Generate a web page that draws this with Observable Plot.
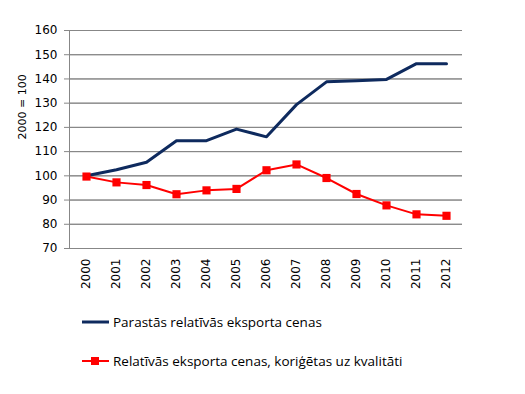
<!DOCTYPE html>
<html><head><meta charset="utf-8">
<script src="https://cdn.jsdelivr.net/npm/d3@7"></script>
<script src="https://cdn.jsdelivr.net/npm/@observablehq/plot@0.6"></script>
<style>
body{margin:0;background:#fff;width:525px;height:394px;overflow:hidden;}
#legend{font-family:"Open Sans",sans-serif;font-size:13.5px;color:#000;}
.row{position:absolute;left:82px;display:flex;align-items:center;}
.row svg{margin-right:4px;}
</style>
</head><body><div id="chart" style="position:relative"></div>
<script>
const years = ["2000","2001","2002","2003","2004","2005","2006","2007","2008","2009","2010","2011","2012"];
const ordinary = [100, 102.5, 105.6, 114.5, 114.5, 119.3, 116.1, 129.4, 138.8, 139.3, 139.8, 146.3, 146.3];
const adjusted = [99.7, 97.3, 96.2, 92.4, 94.0, 94.6, 102.3, 104.7, 99.1, 92.5, 87.8, 84.1, 83.5];
const yTicks = [70, 80, 90, 100, 110, 120, 130, 140, 150, 160];
const seriesNames = ["Parastās relatīvās eksporta cenas", "Relatīvās eksporta cenas, koriģētas uz kvalitāti"];
const yTitle = "2000 = 100";
const colors = ["#0e2a5e", "#ff0000"];

const d1 = years.map((y, i) => ({year: y, value: ordinary[i]}));
const d2 = years.map((y, i) => ({year: y, value: adjusted[i]}));

const plot = Plot.plot({
  width: 525, height: 300,
  marginTop: 30, marginBottom: 52, marginLeft: 69, marginRight: 63,
  style: {fontFamily: "DejaVu Sans, Verdana, sans-serif", fontSize: "12px", color: "#000", background: "#fff"},
  x: {type: "point", domain: years, padding: 0.5, axis: null},
  y: {domain: [70, 160], axis: null},
  marks: [
    Plot.gridY(yTicks, {stroke: "#878787", strokeOpacity: 1}),
    Plot.tickY(yTicks, {y: d => d, frameAnchor: "left", stroke: "#878787"}),
    Plot.axisY({ticks: yTicks, tickSize: 5, tickPadding: 7, stroke: "#878787", label: null, fontSize: 12}),
    Plot.frame({anchor: "left", stroke: "#878787"}),
    Plot.axisX({tickRotate: -90, tickSize: 0, tickPadding: 10, label: null, fontSize: 12}),
    Plot.text([yTitle], {frameAnchor: "left", dx: -47, rotate: -90, fontSize: 11}),
    Plot.line(d1, {x: "year", y: "value", stroke: colors[0], strokeWidth: 3}),
    Plot.line(d2, {x: "year", y: "value", stroke: colors[1], strokeWidth: 2}),
    Plot.dot(d2, {x: "year", y: "value", symbol: "square", r: 4.6, fill: colors[1], stroke: "none"})
  ]
});
const chart = document.getElementById("chart");
chart.appendChild(plot);

const legend = document.createElement("div");
legend.id = "legend";
const tops = [313, 352];
seriesNames.forEach((name, i) => {
  const row = document.createElement("div");
  row.className = "row";
  row.style.top = tops[i] + "px";
  const marker = i === 1 ? `<rect x="9" y="2" width="8" height="8" fill="${colors[1]}"/>` : "";
  row.innerHTML = `<svg width="27" height="12"><line x1="0" x2="27" y1="6" y2="6" stroke="${colors[i]}" stroke-width="${i===0?3:2}"/>${marker}</svg><span>${name}</span>`;
  legend.appendChild(row);
});
chart.appendChild(legend);
</script></body></html>
